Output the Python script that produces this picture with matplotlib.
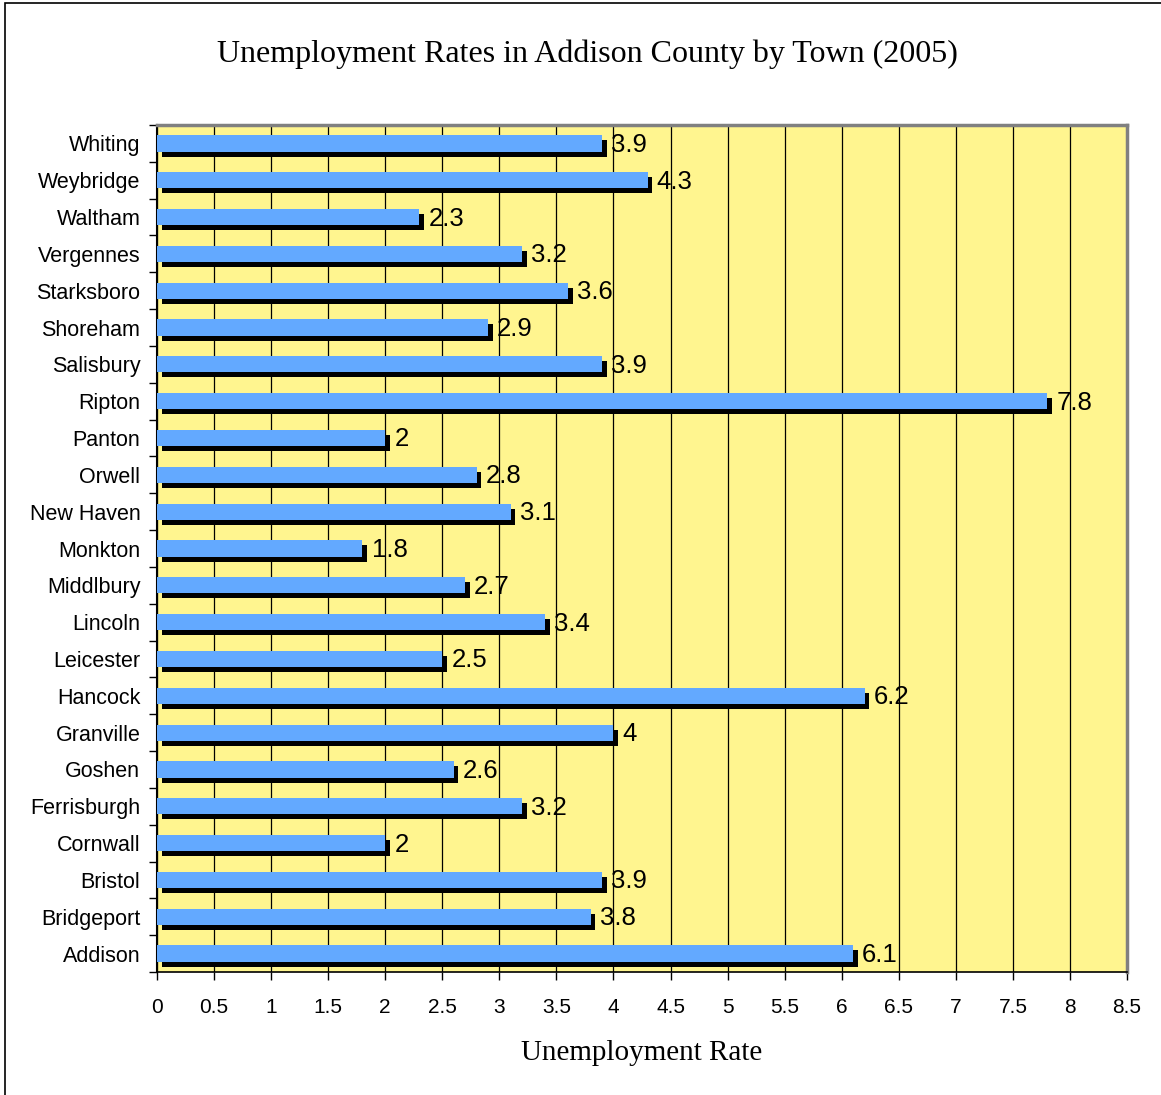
import numpy as np
import matplotlib.pyplot as plt
import matplotlib.patheffects as pe
from matplotlib.patches import Rectangle

# Towns from bottom to top, as drawn
towns = ['Addison', 'Bridgeport', 'Bristol', 'Cornwall', 'Ferrisburgh', 'Goshen',
         'Granville', 'Hancock', 'Leicester', 'Lincoln', 'Middlbury', 'Monkton',
         'New Haven', 'Orwell', 'Panton', 'Ripton', 'Salisbury', 'Shoreham',
         'Starksboro', 'Vergennes', 'Waltham', 'Weybridge', 'Whiting']
rates = [6.1, 3.8, 3.9, 2, 3.2, 2.6, 4, 6.2, 2.5, 3.4, 2.7, 1.8,
         3.1, 2.8, 2, 7.8, 3.9, 2.9, 3.6, 3.2, 2.3, 4.3, 3.9]
x_ticks = np.arange(0, 8.51, 0.5)

sans = 'Liberation Sans'
serif = 'Liberation Serif'

fig = plt.figure(figsize=(11.61, 10.95), dpi=100)
ax = fig.add_axes([157 / 1161, 1 - 972 / 1095, (1127 - 157) / 1161, (972 - 125) / 1095])
ax.set_facecolor('#FFF58F')

# frame around the whole chart
fig.patches.append(Rectangle((5 / 1161, -0.1), 1.2, 1.1 - 3 / 1095,
                             transform=fig.transFigure, fill=False,
                             edgecolor='black', linewidth=1.2))

y = np.arange(len(towns))
bars = ax.barh(y, rates, height=0.44, color='#63A9FF', zorder=3)
for b in bars:
    b.set_path_effects([pe.SimplePatchShadow(offset=(3.4, -3.6), shadow_rgbFace='black', alpha=1),
                        pe.Normal()])

for yi, v in zip(y, rates):
    ax.text(v + 0.08, yi - 0.04, f'{v:g}', va='center', ha='left', fontsize=18.5,
            family=sans, zorder=4)

ax.set_xlim(0, 8.5)
ax.set_ylim(-0.5, len(towns) - 0.5)
ax.set_xticks(x_ticks)
ax.set_xticklabels([f'{t:g}' for t in x_ticks], family=sans, fontsize=15)
ax.xaxis.grid(True, color='black', linewidth=0.9, zorder=1)
ax.set_axisbelow(True)

ax.set_yticks(y)
ax.set_yticklabels(towns, family=sans, fontsize=15.5)
ax.set_yticks(np.arange(-0.5, len(towns), 1), minor=True)
ax.tick_params(axis='y', which='major', length=0, pad=12)
ax.tick_params(axis='y', which='minor', length=6, width=1, direction='out')
ax.tick_params(axis='x', length=6, width=1, direction='out', pad=13)

for side in ['top', 'right']:
    ax.spines[side].set_color('#808080')
    ax.spines[side].set_linewidth(2.5)
ax.spines['left'].set_linewidth(1.5)
ax.spines['bottom'].set_linewidth(1.2)

ax.set_xlabel('Unemployment Rate', family=serif, fontsize=21, labelpad=16)
fig.text(0.506, 1 - 54 / 1095, 'Unemployment Rates in Addison County by Town (2005)',
         family=serif, fontsize=23, ha='center', va='center')

fig.savefig('out.png', dpi=100)
